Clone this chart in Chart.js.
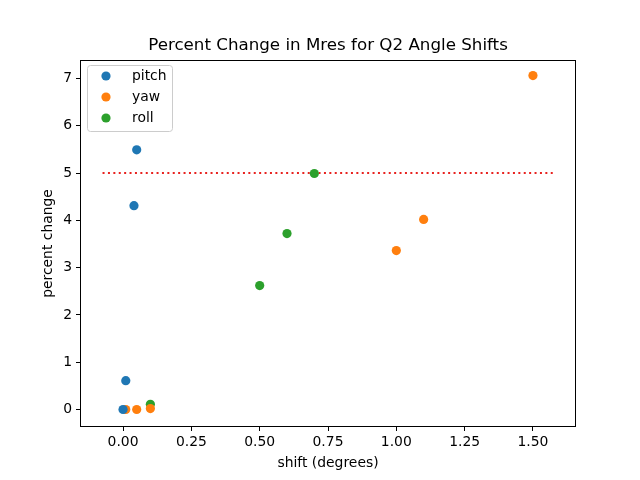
<!DOCTYPE html>
<html>
<head>
<meta charset="utf-8">
<script src="https://cdn.jsdelivr.net/npm/chart.js@4"></script>
<style>
  html, body { margin: 0; padding: 0; background: #fff; }
  #wrap { width: 640px; height: 480px; }
</style>
</head>
<body>
<div id="wrap"><canvas id="chart" width="640" height="480"></canvas></div>
<script>
const pitchX = [0.0, 0.01, 0.04, 0.05];
const pitchY = [0.0, 0.61, 4.31, 5.49];
const yawX = [0.01, 0.05, 0.1, 1.0, 1.1, 1.5];
const yawY = [0.0, 0.0, 0.02, 3.36, 4.02, 7.06];
const rollX = [0.1, 0.5, 0.6, 0.7];
const rollY = [0.11, 2.62, 3.72, 4.99];
const thresholdX = [-0.075, 1.575];
const thresholdY = [5, 5];
const xTicks = [0, 0.25, 0.5, 0.75, 1.0, 1.25, 1.5];
const yTicks = [0, 1, 2, 3, 4, 5, 6, 7];

const FONT = 'DejaVu Sans';
const toPoints = (xs, ys) => xs.map((x, i) => ({ x: x, y: ys[i] }));

const frame = {
    id: 'frame',
    afterDraw(chart) {
        const { ctx, chartArea: a } = chart;
        ctx.save();
        ctx.strokeStyle = '#000';
        ctx.lineWidth = 1;
        ctx.strokeRect(a.left + 0.5, a.top + 0.5, a.right - a.left - 1, a.bottom - a.top - 1);

        // title and axis labels
        ctx.fillStyle = '#000';
        ctx.textAlign = 'center';
        ctx.textBaseline = 'alphabetic';
        ctx.font = '16.7px ' + FONT;
        ctx.fillText('Percent Change in Mres for Q2 Angle Shifts', (a.left + a.right) / 2, 50);
        ctx.font = '13.9px ' + FONT;
        ctx.fillText('shift (degrees)', (a.left + a.right) / 2, 467);
        ctx.save();
        ctx.translate(52, (a.top + a.bottom) / 2);
        ctx.rotate(-Math.PI / 2);
        ctx.fillText('percent change', 0, 0);
        ctx.restore();

        // legend
        const lx = a.left + 7, ly = a.top + 5, lw = 85, lh = 66;
        ctx.beginPath();
        ctx.roundRect(lx + 0.5, ly + 0.5, lw, lh, 3);
        ctx.fillStyle = 'rgba(255,255,255,0.8)';
        ctx.fill();
        ctx.strokeStyle = '#cccccc';
        ctx.stroke();
        ctx.textAlign = 'left';
        ctx.textBaseline = 'middle';
        chart.data.datasets.filter(d => d.showInLegend).forEach((d, i) => {
            const cy = ly + 11 + i * 21;
            ctx.beginPath();
            ctx.arc(lx + 19, cy, 4.6, 0, Math.PI * 2);
            ctx.fillStyle = d.backgroundColor;
            ctx.fill();
            ctx.fillStyle = '#000';
            ctx.font = '13.9px ' + FONT;
            ctx.fillText(d.label, lx + 45, cy);
        });
        ctx.restore();
    }
};

new Chart(document.getElementById('chart').getContext('2d'), {
    type: 'scatter',
    data: {
        datasets: [
            { label: 'pitch', data: toPoints(pitchX, pitchY), backgroundColor: '#1f77b4', borderWidth: 0, pointRadius: 4.6, showInLegend: true },
            { label: 'yaw', data: toPoints(yawX, yawY), backgroundColor: '#ff7f0e', borderWidth: 0, pointRadius: 4.6, showInLegend: true },
            { label: 'roll', data: toPoints(rollX, rollY), backgroundColor: '#2ca02c', borderWidth: 0, pointRadius: 4.6, showInLegend: true },
            {
                label: 'threshold', type: 'line', data: toPoints(thresholdX, thresholdY),
                borderColor: '#e8221f', borderWidth: 2, borderDash: [2, 3.4], pointRadius: 0, showLine: true
            }
        ]
    },
    options: {
        responsive: false,
        animation: false,
        layout: { padding: { top: 60, right: 64, left: 0, bottom: 0 } },
        plugins: { legend: { display: false }, title: { display: false }, tooltip: { enabled: false } },
        scales: {
            x: {
                type: 'linear', min: -0.1575, max: 1.6575,
                afterBuildTicks: s => { s.ticks = xTicks.map(v => ({ value: v })); },
                afterFit: s => { s.height = 53; },
                grid: { drawOnChartArea: false, drawTicks: true, tickLength: 4, color: '#000' },
                border: { display: false },
                ticks: { color: '#000', font: { family: FONT, size: 13.9 }, padding: 3, maxRotation: 0,
                         callback: v => Number(v).toFixed(2) }
            },
            y: {
                type: 'linear', min: -0.37, max: 7.39,
                afterBuildTicks: s => { s.ticks = yTicks.map(v => ({ value: v })); },
                afterFit: s => { s.width = 80; },
                grid: { drawOnChartArea: false, drawTicks: true, tickLength: 4, color: '#000' },
                border: { display: false },
                ticks: { color: '#000', font: { family: FONT, size: 13.9 }, padding: 4,
                         callback: v => String(v) }
            }
        }
    },
    plugins: [frame]
});
</script>
</body>
</html>
